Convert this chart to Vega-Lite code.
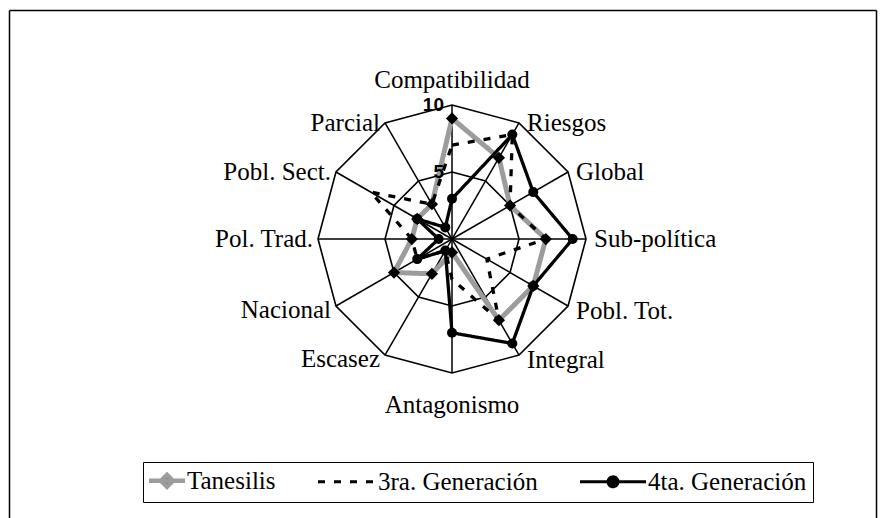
{
  "$schema": "https://vega.github.io/schema/vega-lite/v6.json",
  "width": 867,
  "height": 508,
  "autosize": "none",
  "padding": {"left": 9, "top": 10, "right": 10, "bottom": 0},
  "background": "white",
  "config": {
    "view": {"stroke": null},
    "font": "Liberation Serif",
    "style": {"guide-label": {"font": "Liberation Serif", "fontSize": 25, "fill": "black"}},
    "legend": {"labelFont": "Liberation Serif", "labelFontSize": 25, "labelColor": "black", "labelLimit": 400, "symbolOpacity": 1}
  },
  "datasets": {
    "scores": [
      {"axis": "Compatibilidad", "series": "Tanesilis", "value": 9},
      {"axis": "Riesgos", "series": "Tanesilis", "value": 7},
      {"axis": "Global", "series": "Tanesilis", "value": 5},
      {"axis": "Sub-política", "series": "Tanesilis", "value": 7},
      {"axis": "Pobl. Tot.", "series": "Tanesilis", "value": 7},
      {"axis": "Integral", "series": "Tanesilis", "value": 7},
      {"axis": "Antagonismo", "series": "Tanesilis", "value": 1},
      {"axis": "Escasez", "series": "Tanesilis", "value": 3},
      {"axis": "Nacional", "series": "Tanesilis", "value": 5},
      {"axis": "Pol. Trad.", "series": "Tanesilis", "value": 3},
      {"axis": "Pobl. Sect.", "series": "Tanesilis", "value": 3},
      {"axis": "Parcial", "series": "Tanesilis", "value": 3},
      {"axis": "Compatibilidad", "series": "3ra. Generación", "value": 7},
      {"axis": "Riesgos", "series": "3ra. Generación", "value": 9},
      {"axis": "Global", "series": "3ra. Generación", "value": 5},
      {"axis": "Sub-política", "series": "3ra. Generación", "value": 7},
      {"axis": "Pobl. Tot.", "series": "3ra. Generación", "value": 3},
      {"axis": "Integral", "series": "3ra. Generación", "value": 7},
      {"axis": "Antagonismo", "series": "3ra. Generación", "value": 3},
      {"axis": "Escasez", "series": "3ra. Generación", "value": 1},
      {"axis": "Nacional", "series": "3ra. Generación", "value": 3},
      {"axis": "Pol. Trad.", "series": "3ra. Generación", "value": 3},
      {"axis": "Pobl. Sect.", "series": "3ra. Generación", "value": 7},
      {"axis": "Parcial", "series": "3ra. Generación", "value": 3},
      {"axis": "Compatibilidad", "series": "4ta. Generación", "value": 3},
      {"axis": "Riesgos", "series": "4ta. Generación", "value": 9},
      {"axis": "Global", "series": "4ta. Generación", "value": 7},
      {"axis": "Sub-política", "series": "4ta. Generación", "value": 9},
      {"axis": "Pobl. Tot.", "series": "4ta. Generación", "value": 7},
      {"axis": "Integral", "series": "4ta. Generación", "value": 9},
      {"axis": "Antagonismo", "series": "4ta. Generación", "value": 7},
      {"axis": "Escasez", "series": "4ta. Generación", "value": 1},
      {"axis": "Nacional", "series": "4ta. Generación", "value": 3},
      {"axis": "Pol. Trad.", "series": "4ta. Generación", "value": 1},
      {"axis": "Pobl. Sect.", "series": "4ta. Generación", "value": 3},
      {"axis": "Parcial", "series": "4ta. Generación", "value": 1}
    ],
    "grid": [
      {"axis": "Compatibilidad", "ring": 5}, {"axis": "Compatibilidad", "ring": 10},
      {"axis": "Riesgos", "ring": 5}, {"axis": "Riesgos", "ring": 10},
      {"axis": "Global", "ring": 5}, {"axis": "Global", "ring": 10},
      {"axis": "Sub-política", "ring": 5}, {"axis": "Sub-política", "ring": 10},
      {"axis": "Pobl. Tot.", "ring": 5}, {"axis": "Pobl. Tot.", "ring": 10},
      {"axis": "Integral", "ring": 5}, {"axis": "Integral", "ring": 10},
      {"axis": "Antagonismo", "ring": 5}, {"axis": "Antagonismo", "ring": 10},
      {"axis": "Escasez", "ring": 5}, {"axis": "Escasez", "ring": 10},
      {"axis": "Nacional", "ring": 5}, {"axis": "Nacional", "ring": 10},
      {"axis": "Pol. Trad.", "ring": 5}, {"axis": "Pol. Trad.", "ring": 10},
      {"axis": "Pobl. Sect.", "ring": 5}, {"axis": "Pobl. Sect.", "ring": 10},
      {"axis": "Parcial", "ring": 5}, {"axis": "Parcial", "ring": 10}
    ],
    "radiallabels": [{"v": 5, "label": "5"}, {"v": 10, "label": "10"}]
  },
  "encoding": {
    "x": {"field": "px", "type": "quantitative",
      "scale": {"domain": [-33.06, 31.64], "nice": false, "zero": false},
      "axis": {"values": [-33.06, 31.64], "grid": true, "gridColor": "black", "gridWidth": 1.5, "gridOpacity": 1, "domain": false, "ticks": false, "labels": false, "title": null}},
    "y": {"field": "py", "type": "quantitative",
      "scale": {"domain": [-20.82, 17.09], "nice": false, "zero": false},
      "axis": {"values": [17.09], "grid": true, "gridColor": "black", "gridWidth": 1.5, "gridOpacity": 1, "domain": false, "ticks": false, "labels": false, "title": null}}
  },
  "layer": [
    {
      "data": {"name": "grid"},
      "transform": [
        {"calculate": "indexof(['Compatibilidad','Riesgos','Global','Sub-política','Pobl. Tot.','Integral','Antagonismo','Escasez','Nacional','Pol. Trad.','Pobl. Sect.','Parcial'], datum.axis)", "as": "idx"},
        {"calculate": "datum.ring*sin(datum.idx*PI/6)", "as": "px"},
        {"calculate": "datum.ring*cos(datum.idx*PI/6)", "as": "py"}
      ],
      "mark": {"type": "line", "interpolate": "linear-closed", "stroke": "black", "strokeWidth": 1.6},
      "encoding": {"detail": {"field": "ring", "type": "nominal"}, "order": {"field": "idx", "type": "quantitative"}}
    },
    {
      "data": {"name": "grid"},
      "transform": [
        {"filter": "datum.ring == 10"},
        {"calculate": "indexof(['Compatibilidad','Riesgos','Global','Sub-política','Pobl. Tot.','Integral','Antagonismo','Escasez','Nacional','Pol. Trad.','Pobl. Sect.','Parcial'], datum.axis)", "as": "idx"},
        {"calculate": "datum.ring*sin(datum.idx*PI/6)", "as": "px"},
        {"calculate": "datum.ring*cos(datum.idx*PI/6)", "as": "py"}
      ],
      "mark": {"type": "rule", "stroke": "black", "strokeWidth": 1.5},
      "encoding": {"x2": {"datum": 0}, "y2": {"datum": 0}}
    },
    {
      "data": {"name": "scores"},
      "transform": [
        {"filter": "datum.series == 'Tanesilis'"},
        {"calculate": "indexof(['Compatibilidad','Riesgos','Global','Sub-política','Pobl. Tot.','Integral','Antagonismo','Escasez','Nacional','Pol. Trad.','Pobl. Sect.','Parcial'], datum.axis)", "as": "idx"},
        {"calculate": "datum.value*sin(datum.idx*PI/6)", "as": "px"},
        {"calculate": "datum.value*cos(datum.idx*PI/6)", "as": "py"}
      ],
      "mark": {"type": "line", "interpolate": "linear-closed", "strokeWidth": 5},
      "encoding": {
        "color": {"field": "series", "type": "nominal",
          "scale": {"domain": ["Tanesilis", "3ra. Generación", "4ta. Generación"], "range": ["#9c9c9c", "black", "black"]},
          "legend": {
            "orient": "none", "legendX": 134, "legendY": 452, "direction": "horizontal", "title": null,
            "strokeColor": "black", "fillColor": "white", "padding": 6,
            "labelFont": "Liberation Serif", "labelFontSize": 25, "labelColor": "black", "labelLimit": 400,
            "symbolType": "stroke", "symbolSize": 3136, "symbolStrokeWidth": 3, "columnPadding": 36,
            "symbolOpacity": 1,
            "encode": {
              "symbols": {"update": {
                "x": {"signal": "datum.value == 'Tanesilis' ? 18 : (datum.value == '3ra. Generación' ? 29 : 33)"},
                "size": {"signal": "datum.value == 'Tanesilis' ? 1296 : (datum.value == '3ra. Generación' ? 3364 : 4356)"},
                "shape": {"signal": "datum.value == 'Tanesilis' ? 'M-1,0H1M0,-0.33L0.33,0L0,0.33L-0.33,0Z' : (datum.value == '3ra. Generación' ? 'stroke' : 'M-1,0H1M0.15,0A0.15,0.15,0,1,1,-0.15,0A0.15,0.15,0,1,1,0.15,0Z')"},
                "fill": {"value": "black"},
                "strokeDash": {"signal": "datum.value == '3ra. Generación' ? [7, 8] : [1, 0]"},
                "strokeWidth": {"signal": "datum.value == 'Tanesilis' ? 4.5 : 3"}
              }},
              "labels": {"update": {
                "x": {"signal": "datum.value == 'Tanesilis' ? 38 : (datum.value == '3ra. Generación' ? 60 : 68)"},
                "font": {"value": "Liberation Serif"},
                "fontSize": {"value": 25},
                "fill": {"value": "black"}
              }}
            }
          }},
        "strokeDash": {"field": "series", "type": "nominal", "legend": null,
          "scale": {"domain": ["Tanesilis", "3ra. Generación", "4ta. Generación"], "range": [[1, 0], [7, 9], [1, 0]]}},
        "order": {"field": "idx", "type": "quantitative"}
      }
    },
    {
      "data": {"name": "scores"},
      "transform": [
        {"filter": "datum.series == 'Tanesilis'"},
        {"calculate": "indexof(['Compatibilidad','Riesgos','Global','Sub-política','Pobl. Tot.','Integral','Antagonismo','Escasez','Nacional','Pol. Trad.','Pobl. Sect.','Parcial'], datum.axis)", "as": "idx"},
        {"calculate": "datum.value*sin(datum.idx*PI/6)", "as": "px"},
        {"calculate": "datum.value*cos(datum.idx*PI/6)", "as": "py"}
      ],
      "mark": {"type": "point", "shape": "diamond", "filled": true, "fill": "black", "opacity": 1, "size": 150},
      "encoding": {}
    },
    {
      "data": {"name": "scores"},
      "transform": [
        {"filter": "datum.series != 'Tanesilis'"},
        {"calculate": "indexof(['Compatibilidad','Riesgos','Global','Sub-política','Pobl. Tot.','Integral','Antagonismo','Escasez','Nacional','Pol. Trad.','Pobl. Sect.','Parcial'], datum.axis)", "as": "idx"},
        {"calculate": "datum.value*sin(datum.idx*PI/6)", "as": "px"},
        {"calculate": "datum.value*cos(datum.idx*PI/6)", "as": "py"}
      ],
      "mark": {"type": "line", "interpolate": "linear-closed", "strokeWidth": 3.3},
      "encoding": {
        "color": {"field": "series", "type": "nominal"},
        "strokeDash": {"field": "series", "type": "nominal", "legend": null},
        "order": {"field": "idx", "type": "quantitative"}
      }
    },
    {
      "data": {"name": "scores"},
      "transform": [
        {"filter": "datum.series == '4ta. Generación'"},
        {"calculate": "indexof(['Compatibilidad','Riesgos','Global','Sub-política','Pobl. Tot.','Integral','Antagonismo','Escasez','Nacional','Pol. Trad.','Pobl. Sect.','Parcial'], datum.axis)", "as": "idx"},
        {"calculate": "datum.value*sin(datum.idx*PI/6)", "as": "px"},
        {"calculate": "datum.value*cos(datum.idx*PI/6)", "as": "py"}
      ],
      "mark": {"type": "point", "shape": "circle", "filled": true, "fill": "black", "opacity": 1, "size": 100},
      "encoding": {}
    },
    {
      "data": {"name": "radiallabels"},
      "transform": [
        {"calculate": "0", "as": "px"},
        {"calculate": "datum.v", "as": "py"}
      ],
      "mark": {"type": "text", "font": "Liberation Sans", "fontWeight": "bold", "fontSize": 19, "align": "right", "baseline": "middle", "dx": -8, "fill": "black"},
      "encoding": {"text": {"field": "label", "type": "nominal"}}
    },
    {
      "data": {"name": "grid"},
      "transform": [
        {"filter": "datum.ring == 10"},
        {"calculate": "indexof(['Compatibilidad','Riesgos','Global','Sub-política','Pobl. Tot.','Integral','Antagonismo','Escasez','Nacional','Pol. Trad.','Pobl. Sect.','Parcial'], datum.axis)", "as": "idx"},
        {"filter": "datum.idx == 0"},
        {"calculate": "datum.ring*sin(datum.idx*PI/6)", "as": "px"},
        {"calculate": "datum.ring*cos(datum.idx*PI/6)", "as": "py"}
      ],
      "mark": {"type": "text", "fontSize": 25, "align": "center", "baseline": "alphabetic", "dy": -17, "fill": "black"},
      "encoding": {"text": {"field": "axis", "type": "nominal"}}
    },
    {
      "data": {"name": "grid"},
      "transform": [
        {"filter": "datum.ring == 10"},
        {"calculate": "indexof(['Compatibilidad','Riesgos','Global','Sub-política','Pobl. Tot.','Integral','Antagonismo','Escasez','Nacional','Pol. Trad.','Pobl. Sect.','Parcial'], datum.axis)", "as": "idx"},
        {"filter": "datum.idx == 6"},
        {"calculate": "datum.ring*sin(datum.idx*PI/6)", "as": "px"},
        {"calculate": "datum.ring*cos(datum.idx*PI/6)", "as": "py"}
      ],
      "mark": {"type": "text", "fontSize": 25, "align": "center", "baseline": "alphabetic", "dy": 40, "fill": "black"},
      "encoding": {"text": {"field": "axis", "type": "nominal"}}
    },
    {
      "data": {"name": "grid"},
      "transform": [
        {"filter": "datum.ring == 10"},
        {"calculate": "indexof(['Compatibilidad','Riesgos','Global','Sub-política','Pobl. Tot.','Integral','Antagonismo','Escasez','Nacional','Pol. Trad.','Pobl. Sect.','Parcial'], datum.axis)", "as": "idx"},
        {"filter": "datum.idx >= 1 && datum.idx <= 3"},
        {"calculate": "datum.ring*sin(datum.idx*PI/6)", "as": "px"},
        {"calculate": "datum.ring*cos(datum.idx*PI/6)", "as": "py"}
      ],
      "mark": {"type": "text", "fontSize": 25, "align": "left", "baseline": "middle", "dx": 8, "fill": "black"},
      "encoding": {"text": {"field": "axis", "type": "nominal"}}
    },
    {
      "data": {"name": "grid"},
      "transform": [
        {"filter": "datum.ring == 10"},
        {"calculate": "indexof(['Compatibilidad','Riesgos','Global','Sub-política','Pobl. Tot.','Integral','Antagonismo','Escasez','Nacional','Pol. Trad.','Pobl. Sect.','Parcial'], datum.axis)", "as": "idx"},
        {"filter": "datum.idx == 4 || datum.idx == 5"},
        {"calculate": "datum.ring*sin(datum.idx*PI/6)", "as": "px"},
        {"calculate": "datum.ring*cos(datum.idx*PI/6)", "as": "py"}
      ],
      "mark": {"type": "text", "fontSize": 25, "align": "left", "baseline": "middle", "dx": 8, "dy": 5, "fill": "black"},
      "encoding": {"text": {"field": "axis", "type": "nominal"}}
    },
    {
      "data": {"name": "grid"},
      "transform": [
        {"filter": "datum.ring == 10"},
        {"calculate": "indexof(['Compatibilidad','Riesgos','Global','Sub-política','Pobl. Tot.','Integral','Antagonismo','Escasez','Nacional','Pol. Trad.','Pobl. Sect.','Parcial'], datum.axis)", "as": "idx"},
        {"filter": "datum.idx >= 9"},
        {"calculate": "datum.ring*sin(datum.idx*PI/6)", "as": "px"},
        {"calculate": "datum.ring*cos(datum.idx*PI/6)", "as": "py"}
      ],
      "mark": {"type": "text", "fontSize": 25, "align": "right", "baseline": "middle", "dx": -5, "fill": "black"},
      "encoding": {"text": {"field": "axis", "type": "nominal"}}
    },
    {
      "data": {"name": "grid"},
      "transform": [
        {"filter": "datum.ring == 10"},
        {"calculate": "indexof(['Compatibilidad','Riesgos','Global','Sub-política','Pobl. Tot.','Integral','Antagonismo','Escasez','Nacional','Pol. Trad.','Pobl. Sect.','Parcial'], datum.axis)", "as": "idx"},
        {"filter": "datum.idx == 7 || datum.idx == 8"},
        {"calculate": "datum.ring*sin(datum.idx*PI/6)", "as": "px"},
        {"calculate": "datum.ring*cos(datum.idx*PI/6)", "as": "py"}
      ],
      "mark": {"type": "text", "fontSize": 25, "align": "right", "baseline": "middle", "dx": -5, "dy": 4, "fill": "black"},
      "encoding": {"text": {"field": "axis", "type": "nominal"}}
    }
  ]
}
